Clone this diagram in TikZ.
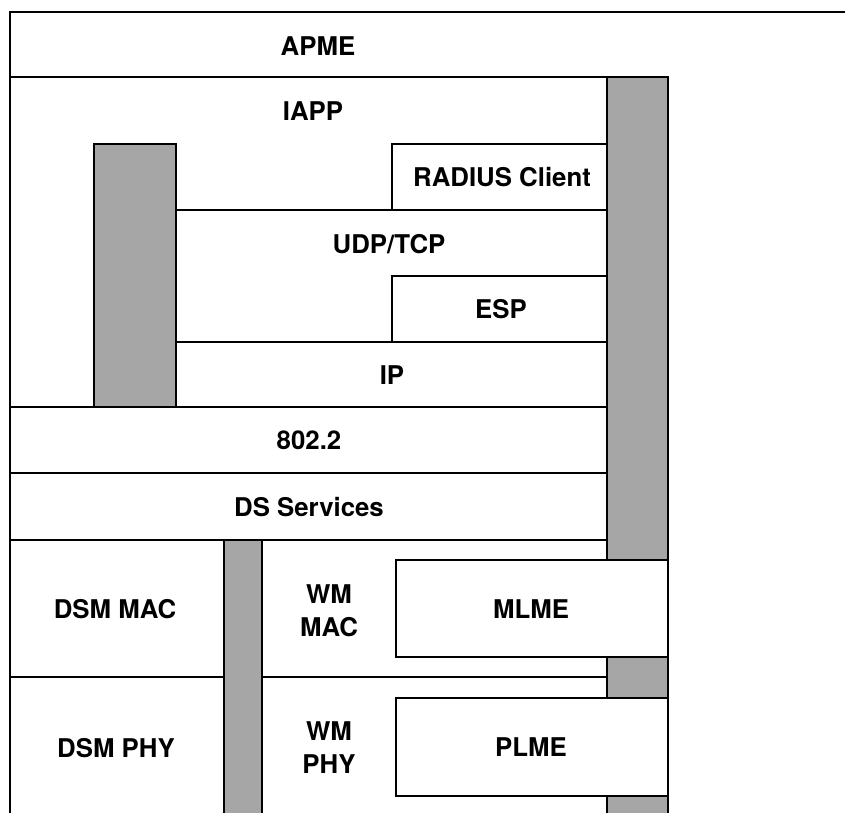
\documentclass[tikz,border=0pt]{standalone}
\usepackage{fontspec}
\setmainfont{TeX Gyre Heros}
\usepackage{tikz}
\definecolor{bargray}{RGB}{166,166,166}
\tikzset{
	bar/.style={fill=bargray, draw=black},
	lbl/.style={font=\bfseries\fontsize{25.8}{33}\selectfont, inner sep=0pt, align=center}
}

\begin{document}
\begin{tikzpicture}[x=1pt, y=-1pt, line width=2pt]
		\useasboundingbox (0,0) rectangle (845,812);
		\clip (0,0) rectangle (845,812);
		%%%%% START %%%%%
		
		% APME and the outer frame
		\draw (850,12) -- (10,12) -- (10,820);
		\draw (10,77) -- (607,77);
		\draw[bar] (607,77) rectangle (668,820);
		
		% IAPP, UDP/TCP, IP
		\draw[bar] (94,144) rectangle (176,407);
		\draw (392,144) rectangle (607,210);
		\draw (176,210) -- (607,210);
		\draw (392,276) rectangle (607,342);
		\draw (176,342) -- (607,342);
		
		% 802.2 and DS Services
		\draw (10,407) -- (607,407);
		\draw (10,473) -- (607,473);
		\draw (10,540) -- (607,540);
		
		% MAC and PHY
		\draw (10,677) -- (224,677);
		\draw (262,677) -- (607,677);
		\draw[bar] (224,540) rectangle (262,820);
		\draw[fill=white] (396,560) rectangle (668,657);
		\draw[fill=white] (396,698) rectangle (668,796);
		
		\node[lbl] (apme) at (318,46) {APME};
		\node[lbl] (iapp) at (313,111) {IAPP};
		\node[lbl] (radius) at (502,177) {RADIUS Client};
		\node[lbl] (udptcp) at (389,244) {UDP/TCP};
		\node[lbl] (esp) at (501,309) {ESP};
		\node[lbl] (ip) at (392,375) {IP};
		\node[lbl] (llc) at (309,440) {802.2};
		\node[lbl] (ds) at (309,507) {DS Services};
		\node[lbl] (dsmmac) at (115,609) {DSM MAC};
		\node[lbl] (wmmac) at (329,611) {WM\\MAC};
		\node[lbl] (mlme) at (531,609) {MLME};
		\node[lbl] (dsmphy) at (116,748) {DSM PHY};
		\node[lbl] (wmphy) at (329,748) {WM\\PHY};
		\node[lbl] (plme) at (531,747) {PLME};
		
		%%%%% END %%%%%
\end{tikzpicture}
\end{document}
